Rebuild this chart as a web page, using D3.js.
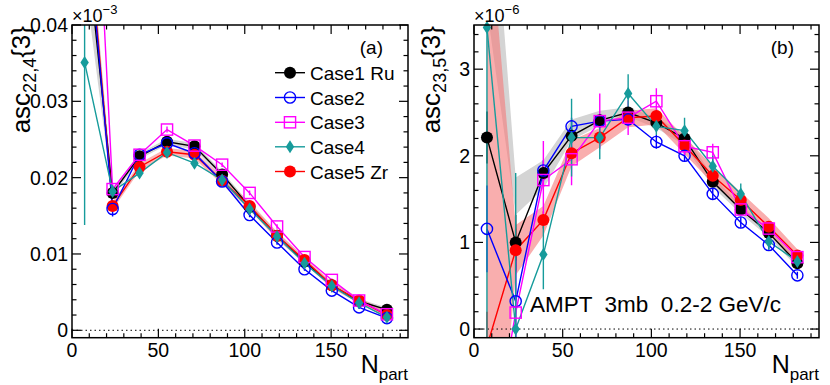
<!DOCTYPE html>
<html>
<head>
<meta charset="utf-8">
<script src="https://cdn.jsdelivr.net/npm/d3@7"></script>
<style>
  body { margin: 0; background: #fff; }
  svg { display: block; font-family: "Liberation Sans", Arial, sans-serif; }
</style>
</head>
<body>
<div id="chart"></div>
<script>
// centrality bins (same for both panels)
const nPart = [7.3, 23.5, 39.1, 55, 70.9, 86.9, 102.8, 118.7, 134.6, 150.4, 166.2, 182.3];
const caseNames = ['Case1 Ru', 'Case2', 'Case3', 'Case4', 'Case5 Zr'];

// panel (a): asc_{22,4}{3}
const a1 = [0.053, 0.0180, 0.0228, 0.0247, 0.0241, 0.0204, 0.0162, 0.0124, 0.0090, 0.0059, 0.0038, 0.0027];
const a2 = [0.057, 0.0159, 0.0230, 0.0245, 0.0232, 0.0195, 0.0151, 0.0115, 0.0080, 0.0052, 0.0030, 0.0016];
const a3 = [0.091, 0.0185, 0.0230, 0.0263, 0.0242, 0.0217, 0.0180, 0.0136, 0.0096, 0.0066, 0.0039, 0.0021];
const a4 = [0.0351, 0.0182, 0.0206, 0.0233, 0.0219, 0.0197, 0.0159, 0.0123, 0.0088, 0.0058, 0.0036, 0.0017];
const a5 = [0.058, 0.0163, 0.0214, 0.0234, 0.0230, 0.0196, 0.0163, 0.0124, 0.0092, 0.0059, 0.0039, 0.0020];
const a1Err = [0.004, 0.0006, 0.0004, 0.0004, 0.0003, 0.0003, 0.0003, 0.0003, 0.0002, 0.0002, 0.0002, 0.0002];
const a2Err = [0.004, 0.0010, 0.0004, 0.0004, 0.0003, 0.0003, 0.0003, 0.0003, 0.0002, 0.0002, 0.0002, 0.0002];
const a3Err = [0.005, 0.0006, 0.0004, 0.0004, 0.0003, 0.0003, 0.0003, 0.0003, 0.0002, 0.0002, 0.0002, 0.0002];
const a4Err = [0.0213, 0.0008, 0.0005, 0.0004, 0.0004, 0.0003, 0.0003, 0.0003, 0.0002, 0.0002, 0.0002, 0.0002];
const a5Err = [0.004, 0.0006, 0.0004, 0.0004, 0.0003, 0.0003, 0.0003, 0.0003, 0.0002, 0.0002, 0.0002, 0.0002];
const aBand1Lo = [0.046, 0.0175, 0.0224, 0.0243, 0.0237, 0.0200, 0.0158, 0.0120, 0.0087, 0.0056, 0.0035, 0.0024];
const aBand1Hi = [0.060, 0.0185, 0.0232, 0.0251, 0.0245, 0.0208, 0.0166, 0.0128, 0.0093, 0.0062, 0.0041, 0.0030];
const aBand5Lo = [0.055, 0.0158, 0.0209, 0.0229, 0.0225, 0.0191, 0.0158, 0.0119, 0.0088, 0.0055, 0.0035, 0.0016];
const aBand5Hi = [0.061, 0.0168, 0.0219, 0.0239, 0.0235, 0.0201, 0.0168, 0.0129, 0.0096, 0.0063, 0.0043, 0.0024];

// panel (b): asc_{23,5}{3}
const b1 = [2.21, 1.00, 1.80, 2.23, 2.41, 2.50, 2.38, 2.20, 1.70, 1.38, 1.11, 0.76];
const b2 = [1.156, 0.32, 1.83, 2.34, 2.40, 2.42, 2.16, 2.00, 1.56, 1.23, 0.97, 0.62];
const b3 = [-1.7, 0.19, 1.72, 1.96, 2.40, 2.44, 2.63, 2.11, 2.04, 1.38, 1.16, 0.83];
const b4 = [3.48, 0.0, 0.86, 2.21, 2.21, 2.72, 2.34, 2.29, 1.88, 1.56, 1.01, 0.78];
const b5 = [-0.2, 0.91, 1.26, 2.03, 2.21, 2.44, 2.46, 2.12, 1.77, 1.49, 1.18, 0.85];
const b1Err = [0.3, 0.32, 0.1, 0.08, 0.07, 0.06, 0.06, 0.06, 0.06, 0.05, 0.05, 0.04];
const b2Err = [0.5, 0.6, 0.12, 0.1, 0.08, 0.07, 0.08, 0.07, 0.07, 0.06, 0.05, 0.04];
const b3Err = [1.5, 0.6, 0.45, 0.3, 0.32, 0.2, 0.15, 0.1, 0.1, 0.07, 0.06, 0.05];
const b4Err = [4.0, 1.8, 0.4, 0.45, 0.25, 0.22, 0.1, 0.15, 0.12, 0.12, 0.1, 0.08];
const b5Err = [0.4, 0.25, 0.1, 0.08, 0.07, 0.06, 0.06, 0.05, 0.05, 0.05, 0.05, 0.04];
const bBand1Lo = [3.7, 1.32, 1.62, 2.18, 2.35, 2.45, 2.32, 2.12, 1.64, 1.33, 1.06, 0.71];
const bBand1Hi = [6.0, 1.75, 1.95, 2.42, 2.52, 2.56, 2.44, 2.26, 1.76, 1.43, 1.15, 0.80];
const bBand5Lo = [-3.0, 0.62, 1.08, 1.88, 2.10, 2.33, 2.36, 2.02, 1.68, 1.40, 1.10, 0.77];
const bBand5Hi = [5.0, 1.20, 1.42, 2.18, 2.32, 2.52, 2.55, 2.22, 1.88, 1.58, 1.28, 0.92];

const colors = ['#000000', '#0000ff', '#ff00ff', '#169b9b', '#ff0000'];
const markers = ['fcircle', 'ocircle', 'osquare', 'diamond', 'fcircle'];
// draw order: Case1, Case5, Case2, Case3, Case4
const drawOrder = [0, 4, 1, 2, 3];

const width = 830, height = 385;
const svg = d3.select('#chart').append('svg')
  .attr('width', width)
  .attr('height', height);

function marker(g, type, color, x, y) {
  if (type === 'fcircle') {
    g.append('circle').attr('cx', x).attr('cy', y).attr('r', 6).attr('fill', color);
  } else if (type === 'ocircle') {
    g.append('circle').attr('cx', x).attr('cy', y).attr('r', 5.6)
      .attr('fill', 'none').attr('stroke', color).attr('stroke-width', 1.4);
  } else if (type === 'osquare') {
    g.append('rect').attr('x', x - 5.6).attr('y', y - 5.6).attr('width', 11.2).attr('height', 11.2)
      .attr('fill', 'none').attr('stroke', color).attr('stroke-width', 1.4);
  } else {
    g.append('path')
      .attr('d', `M${x},${y - 6.5}L${x + 4.2},${y}L${x},${y + 6.5}L${x - 4.2},${y}Z`)
      .attr('fill', color);
  }
}

function drawPanel(p) {
  const x = d3.scaleLinear().domain([0, 194.5]).range([p.left, p.right]);
  const y = d3.scaleLinear().domain(p.yDomain).range([p.bottom, p.top]);
  const g = svg.append('g');

  const clipId = 'clip-' + p.id;
  svg.append('clipPath').attr('id', clipId)
    .append('rect')
    .attr('x', p.left).attr('y', p.top)
    .attr('width', p.right - p.left).attr('height', p.bottom - p.top);

  const plot = g.append('g').attr('clip-path', `url(#${clipId})`);

  // bands
  p.bands.forEach(b => {
    const area = d3.area()
      .x((d, i) => x(nPart[i]))
      .y0((d, i) => y(b.lo[i]))
      .y1((d, i) => y(b.hi[i]));
    plot.append('path').datum(b.lo).attr('d', area).attr('fill', b.fill).attr('stroke', 'none');
  });

  // zero line
  plot.append('line')
    .attr('x1', p.left).attr('x2', p.right)
    .attr('y1', y(0)).attr('y2', y(0))
    .attr('stroke', '#000').attr('stroke-width', 1)
    .attr('stroke-dasharray', '1.5,3');

  const line = d3.line().x((d, i) => x(nPart[i])).y(d => y(d));
  const markerLayer = g.append('g');

  drawOrder.forEach(k => {
    const vals = p.series[k], errs = p.errors[k], c = colors[k];
    plot.append('path').datum(vals).attr('d', line)
      .attr('fill', 'none').attr('stroke', c).attr('stroke-width', 1.4);
    vals.forEach((v, i) => {
      plot.append('line')
        .attr('x1', x(nPart[i])).attr('x2', x(nPart[i]))
        .attr('y1', y(v - errs[i])).attr('y2', y(v + errs[i]))
        .attr('stroke', c).attr('stroke-width', 1.4);
    });
  });
  drawOrder.forEach(k => {
    const vals = p.series[k], c = colors[k];
    vals.forEach((v, i) => {
      if (v < p.yDomain[0] || v > p.yDomain[1]) return;
      marker(markerLayer, markers[k], c, x(nPart[i]), y(v));
    });
  });

  // frame
  g.append('rect')
    .attr('x', p.left).attr('y', p.top)
    .attr('width', p.right - p.left).attr('height', p.bottom - p.top)
    .attr('fill', 'none').attr('stroke', '#000').attr('stroke-width', 1.5);

  // ticks on all four sides, pointing inside
  const tk = g.append('g').attr('stroke', '#000').attr('stroke-width', 1.2);
  d3.range(0, 195, 10).forEach(v => {
    const len = v % 50 === 0 ? 9 : 4.5;
    tk.append('line').attr('x1', x(v)).attr('x2', x(v)).attr('y1', p.bottom).attr('y2', p.bottom - len);
    tk.append('line').attr('x1', x(v)).attr('x2', x(v)).attr('y1', p.top).attr('y2', p.top + len);
  });
  p.yMinor.forEach(v => {
    const major = p.yMajor.some(m => Math.abs(m - v) < 1e-9);
    const len = major ? 9 : 4.5;
    tk.append('line').attr('y1', y(v)).attr('y2', y(v)).attr('x1', p.left).attr('x2', p.left + len);
    tk.append('line').attr('y1', y(v)).attr('y2', y(v)).attr('x1', p.right).attr('x2', p.right - len);
  });

  // tick labels
  [0, 50, 100, 150].forEach(v => {
    g.append('text').attr('x', x(v)).attr('y', 357)
      .attr('text-anchor', 'middle').style('font-size', '19.5px').text(v);
  });
  p.yMajor.forEach(v => {
    g.append('text').attr('x', p.left - 4).attr('y', y(v) + 7)
      .attr('text-anchor', 'end').style('font-size', '19.5px').text(p.yFormat(v));
  });

  // exponent
  const ex = g.append('text').attr('x', p.left).attr('y', 22).style('font-size', '18px');
  ex.append('tspan').text('\u00d710');
  ex.append('tspan').attr('dy', -8).style('font-size', '13px').text(p.exp);

  // y title
  const yt = g.append('text')
    .attr('transform', `translate(${p.titleX},26) rotate(-90)`)
    .attr('text-anchor', 'end').style('font-size', '26px');
  yt.append('tspan').text('asc');
  yt.append('tspan').attr('dy', 6).style('font-size', '18px').text(p.sub);
  yt.append('tspan').attr('dy', -6).text('{3}');

  // x title
  const xt = g.append('text').attr('x', p.right).attr('y', 373)
    .attr('text-anchor', 'end').style('font-size', '25px');
  xt.append('tspan').text('N');
  xt.append('tspan').attr('dy', 7).style('font-size', '17px').text('part');

  // panel label
  g.append('text').attr('x', p.right - 25).attr('y', 54)
    .attr('text-anchor', 'end').style('font-size', '19px').text(p.label);

  return g;
}

const yMinorA = d3.range(0, 0.0401, 0.002);
const yMinorB = d3.range(0, 3.41, 0.2);

const gA = drawPanel({
  id: 'a', left: 72, right: 408, top: 25, bottom: 337.7,
  yDomain: [-0.00097, 0.04],
  yMajor: [0, 0.01, 0.02, 0.03, 0.04], yMinor: yMinorA,
  yFormat: v => v === 0 ? '0' : d3.format('.2f')(v),
  series: [a1, a2, a3, a4, a5],
  errors: [a1Err, a2Err, a3Err, a4Err, a5Err],
  bands: [
    { lo: aBand1Lo, hi: aBand1Hi, fill: '#d4d4d4' },
    { lo: aBand5Lo, hi: aBand5Hi, fill: 'rgba(245,120,120,0.55)' }
  ],
  exp: '\u22123', sub: '22,4', titleX: 30, label: '(a)'
});

const gB = drawPanel({
  id: 'b', left: 474, right: 819, top: 25, bottom: 337.7,
  yDomain: [-0.1, 3.51],
  yMajor: [0, 1, 2, 3], yMinor: yMinorB,
  yFormat: v => String(v),
  series: [b1, b2, b3, b4, b5],
  errors: [b1Err, b2Err, b3Err, b4Err, b5Err],
  bands: [
    { lo: bBand1Lo, hi: bBand1Hi, fill: '#d4d4d4' },
    { lo: bBand5Lo, hi: bBand5Hi, fill: 'rgba(245,120,120,0.6)' }
  ],
  exp: '\u22126', sub: '23,5', titleX: 440, label: '(b)'
});

// legend in panel (a)
const legendY = [72.7, 97.5, 122.3, 146.8, 171.5];
const leg = svg.append('g');
caseNames.forEach((name, k) => {
  const cy = legendY[k];
  leg.append('line').attr('x1', 275).attr('x2', 305).attr('y1', cy).attr('y2', cy)
    .attr('stroke', colors[k]).attr('stroke-width', 1.4);
  marker(leg, markers[k], colors[k], 290, cy);
  leg.append('text').attr('x', 310).attr('y', cy + 7).style('font-size', '19px').text(name);
});

// annotation in panel (b)
svg.append('text').attr('x', 530).attr('y', 311.5)
  .style('font-size', '22.5px').style('white-space', 'pre')
  .attr('xml:space', 'preserve')
  .text('AMPT  3mb  0.2-2 GeV/c');
</script>
</body>
</html>
